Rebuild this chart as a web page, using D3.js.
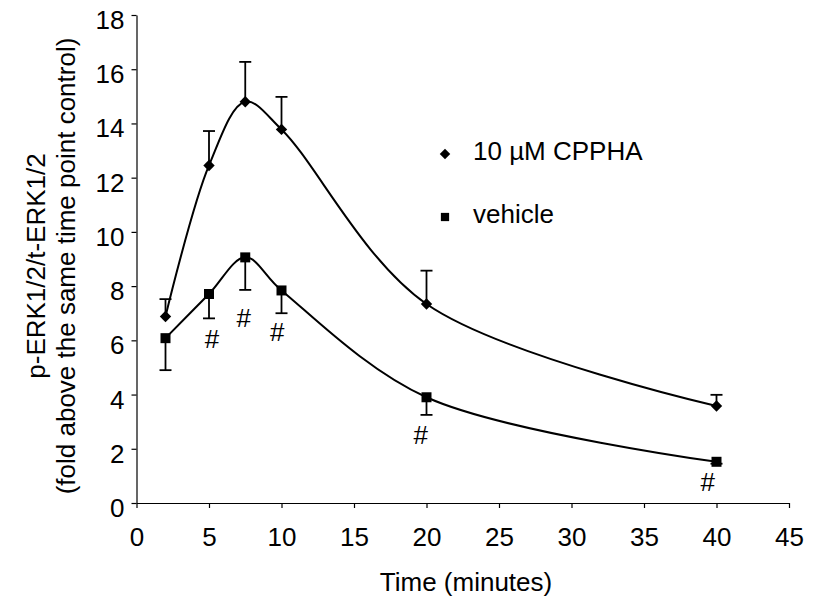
<!DOCTYPE html>
<html>
<head>
<meta charset="utf-8">
<script src="https://cdn.jsdelivr.net/npm/d3@7"></script>
<style>
  body { margin: 0; background: #fff; }
  svg { display: block; font-family: "Liberation Sans", Arial, sans-serif; }
</style>
</head>
<body>
<svg id="chart" width="813" height="602"></svg>
<script>
// time points (minutes)
const times = [2, 5, 7.5, 10, 20, 40];

// 10 uM CPPHA: mean and top of error bar
const cppha = [6.88, 12.45, 14.8, 13.78, 7.34, 3.58];
const cpphaErr = [7.52, 13.72, 16.27, 14.98, 8.57, 3.99];

// vehicle: mean and bottom of error bar
const vehicle = [6.08, 7.71, 9.06, 7.84, 3.9, 1.52];
const vehicleErr = [4.9, 6.81, 7.86, 7.0, 3.25, 1.45];

// "#" significance marks (data coordinates of glyph centre / baseline)
const hashX = [5.2, 7.4, 9.7, 19.6, 39.4];
const hashY = [5.7, 6.5, 5.98, 2.18, 0.44];

const xTicks = d3.range(0, 46, 5);
const yTicks = d3.range(0, 19, 2);
const legendLabels = ["10 \u00b5M CPPHA", "vehicle"];

const svg = d3.select("#chart");
const x = d3.scaleLinear().domain([0, 45]).range([136.5, 789]);
const y = d3.scaleLinear().domain([0, 18]).range([503, 15]);

// square diamond (Excel style marker)
const diamond = {
  draw(ctx, size) {
    const r = Math.sqrt(size / 2);
    ctx.moveTo(0, -r); ctx.lineTo(r, 0); ctx.lineTo(0, r); ctx.lineTo(-r, 0); ctx.closePath();
  }
};

// axes
const xAxis = svg.append("g")
  .attr("transform", `translate(0,${y(0)})`)
  .call(d3.axisBottom(x).tickValues(xTicks).tickSize(5).tickPadding(20).tickSizeOuter(0));
const yAxis = svg.append("g")
  .attr("transform", `translate(${x(0)},0)`)
  .call(d3.axisLeft(y).tickValues(yTicks).tickSize(5).tickPadding(7).tickSizeOuter(0));

[xAxis, yAxis].forEach(ax => {
  ax.select(".domain").attr("stroke", "#000").attr("stroke-width", 1.2);
  ax.selectAll(".tick line").attr("stroke", "#000").attr("stroke-width", 1.2);
  ax.selectAll(".tick text")
    .attr("fill", "#000")
    .style("font-size", "26px")
    .style("font-family", "Liberation Sans, Arial, sans-serif");
});
yAxis.selectAll(".tick text").attr("dy", "0.52em");

// axis titles
svg.append("text")
  .attr("x", 466).attr("y", 591)
  .attr("text-anchor", "middle")
  .style("font-size", "26px")
  .text("Time (minutes)");

const yTitle = svg.append("text")
  .attr("transform", "translate(0,266) rotate(-90)")
  .attr("text-anchor", "middle")
  .style("font-size", "26px");
yTitle.append("tspan").attr("x", 0).attr("y", 45).text("p-ERK1/2/t-ERK1/2");
yTitle.append("tspan").attr("x", 0).attr("y", 75).text("(fold above the same time point control)");

// smoothed curves
const line = d3.line()
  .x(d => x(d[0]))
  .y(d => y(d[1]))
  .curve(d3.curveCatmullRom.alpha(0.5));

const series = [
  { vals: cppha, err: cpphaErr, symbol: diamond, size: 65 },
  { vals: vehicle, err: vehicleErr, symbol: d3.symbolSquare, size: 100 }
];

series.forEach(s => {
  const pts = times.map((t, i) => [t, s.vals[i]]);
  svg.append("path")
    .datum(pts)
    .attr("fill", "none")
    .attr("stroke", "#000")
    .attr("stroke-width", 2)
    .attr("d", line);

  const eb = svg.append("g").attr("stroke", "#000").attr("stroke-width", 1.8);
  times.forEach((t, i) => {
    eb.append("line")
      .attr("x1", x(t)).attr("x2", x(t))
      .attr("y1", y(s.vals[i])).attr("y2", y(s.err[i]));
    eb.append("line")
      .attr("x1", x(t) - 6).attr("x2", x(t) + 6)
      .attr("y1", y(s.err[i])).attr("y2", y(s.err[i]));
  });

  svg.append("g").selectAll("path")
    .data(pts)
    .join("path")
    .attr("transform", d => `translate(${x(d[0])},${y(d[1])})`)
    .attr("d", d3.symbol().type(s.symbol).size(s.size))
    .attr("fill", "#000");
});

// significance marks
svg.append("g").selectAll("text")
  .data(hashX.map((hx, i) => [hx, hashY[i]]))
  .join("text")
  .attr("x", d => x(d[0]))
  .attr("y", d => y(d[1]))
  .attr("text-anchor", "middle")
  .style("font-size", "26px")
  .text("#");

// legend
const legend = svg.append("g");
[diamond, d3.symbolSquare].forEach((sym, i) => {
  const ly = 154 + i * 63;
  legend.append("path")
    .attr("transform", `translate(445,${ly})`)
    .attr("d", d3.symbol().type(sym).size(i === 0 ? 55 : 68))
    .attr("fill", "#000");
  legend.append("text")
    .attr("x", 473).attr("y", ly + 6)
    .style("font-size", "26px")
    .text(legendLabels[i]);
});
</script>
</body>
</html>
